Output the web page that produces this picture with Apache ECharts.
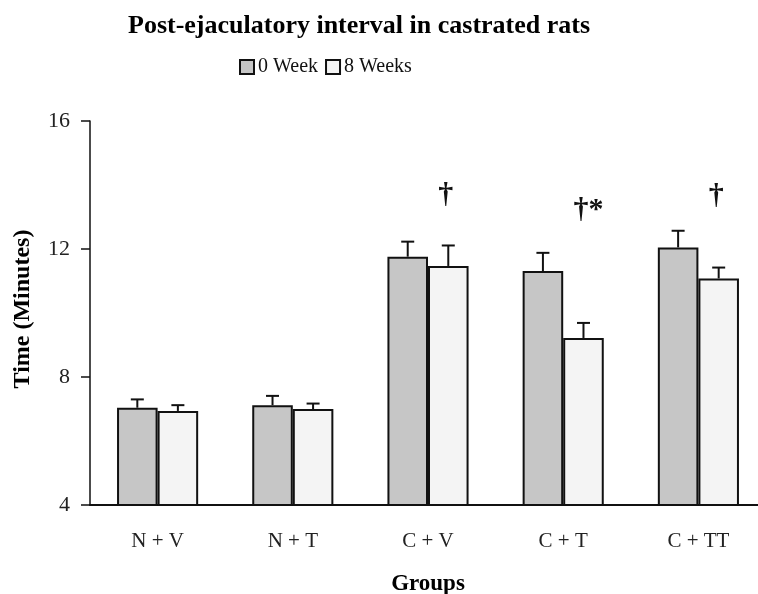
<!DOCTYPE html>
<html>
<head>
<meta charset="utf-8">
<script src="https://cdn.jsdelivr.net/npm/echarts@6/dist/echarts.min.js"></script>
<style>html,body{margin:0;padding:0;background:#fff}#c{width:758px;height:594px}</style>
</head>
<body>
<div id="c"></div>
<script>
const categories = ['N + V', 'N + T', 'C + V', 'C + T', 'C + TT'];
const seriesNames = ['0 Week', '8 Weeks'];
const week0 = [7.04, 7.12, 11.76, 11.31, 12.05];
const week0Err = [0.26, 0.29, 0.47, 0.57, 0.52];
const week8 = [6.94, 7.00, 11.47, 9.22, 11.08];
const week8Err = [0.18, 0.17, 0.64, 0.47, 0.34];
const annotCategory = [2, 3, 4];
const annotValue = [13.68, 13.22, 13.64];
const annotText = ['†', '†*', '†'];
const yTicks = [4, 8, 12, 16];

const FONT = '"Liberation Serif", "DejaVu Serif", serif';
const INK = '#111';

function errorSeries(values, errs, side) {
  return {
    type: 'custom',
    z: 5,
    silent: true,
    data: values.map((v, i) => [i, v, errs[i]]),
    renderItem: function (params, api) {
      const idx = api.value(0), mean = api.value(1), err = api.value(2);
      const band = api.size([1, 0])[0];
      const base = api.coord([idx, mean]);
      const top = api.coord([idx, mean + err]);
      const x = base[0] + side * band * 0.15;
      return {
        type: 'group',
        children: [
          { type: 'line', shape: { x1: x, y1: base[1], x2: x, y2: top[1] }, style: { stroke: INK, lineWidth: 2 } },
          { type: 'line', shape: { x1: x - 6.5, y1: top[1], x2: x + 6.5, y2: top[1] }, style: { stroke: INK, lineWidth: 2 } }
        ]
      };
    }
  };
}

const chart = echarts.init(document.getElementById('c'), null, { renderer: 'canvas' });
chart.setOption({
  animation: false,
  backgroundColor: '#fff',
  title: {
    text: 'Post-ejaculatory interval in castrated rats',
    left: 123, top: 8,
    textStyle: { fontFamily: FONT, fontSize: 26, fontWeight: 'bold', color: '#000' }
  },
  legend: {
    data: seriesNames,
    left: 234, top: 52,
    itemWidth: 14, itemHeight: 14, itemGap: 7,
    icon: 'rect',
    textStyle: { fontFamily: FONT, fontSize: 20, color: '#111', padding: [0, 0, 0, -1] }
  },
  grid: { left: 90, width: 676, top: 121, height: 384, containLabel: false, outerBoundsMode: 'none' },
  xAxis: {
    type: 'category',
    data: categories,
    name: 'Groups',
    nameLocation: 'middle',
    nameGap: 68,
    nameTextStyle: { fontFamily: FONT, fontSize: 23, fontWeight: 'bold', color: '#000' },
    axisLine: { lineStyle: { color: INK, width: 2 } },
    axisTick: { show: false },
    axisLabel: { fontFamily: FONT, fontSize: 21, color: '#222', margin: 26 }
  },
  yAxis: {
    type: 'value',
    min: yTicks[0], max: yTicks[yTicks.length - 1], interval: 4,
    name: 'Time (Minutes)',
    nameLocation: 'middle',
    nameRotate: 90,
    nameGap: 55,
    nameTextStyle: { fontFamily: FONT, fontSize: 24, fontWeight: 'bold', color: '#000', padding: [0, 0, 0, 8] },
    axisLine: { show: true, lineStyle: { color: INK, width: 1.5 } },
    axisTick: { show: true, length: 9, lineStyle: { color: INK, width: 1.5 } },
    splitLine: { show: false },
    axisLabel: { fontFamily: FONT, fontSize: 22, color: '#222', margin: 20 }
  },
  series: [
    {
      name: seriesNames[0], type: 'bar', data: week0,
      barWidth: '30%', barGap: '0%',
      itemStyle: { color: '#c6c6c6', borderColor: INK, borderWidth: 2 }
    },
    {
      name: seriesNames[1], type: 'bar', data: week8,
      barWidth: '30%', barGap: '0%',
      itemStyle: { color: '#f4f4f4', borderColor: INK, borderWidth: 2 }
    },
    errorSeries(week0, week0Err, -1),
    errorSeries(week8, week8Err, 1),
    {
      type: 'custom', z: 6, silent: true,
      data: annotCategory.map((c, i) => [c, annotValue[i], annotText[i]]),
      renderItem: function (params, api) {
        const idx = api.value(0), v = api.value(1);
        const band = api.size([1, 0])[0];
        const p = api.coord([idx, v]);
        const x = p[0] + band * 0.15;
        return {
          type: 'text',
          style: {
            x: x - 10, y: p[1],
            text: annotText[params.dataIndex],
            fontFamily: FONT, fontSize: 30, fontWeight: 'bold',
            fill: '#111', align: 'left', verticalAlign: 'middle'
          }
        };
      }
    }
  ]
});
</script>
</body>
</html>
